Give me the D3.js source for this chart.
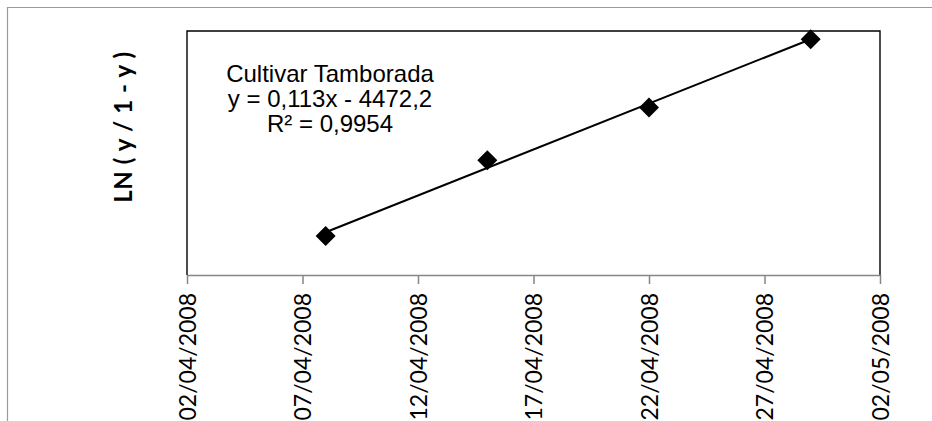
<!DOCTYPE html>
<html>
<head>
<meta charset="utf-8">
<script src="https://cdn.jsdelivr.net/npm/d3@7"></script>
<style>
  html, body { margin: 0; padding: 0; background: #fff; overflow: hidden; }
  svg { display: block; }
</style>
</head>
<body>
<div id="chart"></div>
<script>
// Data
const sampleDates = ["08/04/2008", "15/04/2008", "22/04/2008", "29/04/2008"];
const sampleValues = [-3.52, -2.59, -1.94, -1.10];
const tickLabels = ["02/04/2008", "07/04/2008", "12/04/2008", "17/04/2008",
                    "22/04/2008", "27/04/2008", "02/05/2008"];
const yDomain = [-4, -1];
const annotationLines = ["Cultivar Tamborada", "y = 0,113x - 4472,2", "R² = 0,9954"];
const yTitle = "LN ( y / 1 - y )";

const W = 932, H = 421;
const plot = { left: 187, right: 880, top: 31, bottom: 275 };

const parse = d3.timeParse("%d/%m/%Y");
const fmt = d3.timeFormat("%d/%m/%Y");
const ticks = tickLabels.map(parse);
const points = sampleDates.map((d, i) => ({ date: parse(d), value: sampleValues[i] }));

const svg = d3.select('#chart').append('svg')
    .attr('width', W)
    .attr('height', H);

const x = d3.scaleTime()
    .domain([ticks[0], ticks[ticks.length - 1]])
    .range([plot.left, plot.right]);

const y = d3.scaleLinear()
    .domain(yDomain)
    .range([plot.bottom, plot.top]);

// Outer chart border (cropped on right and bottom)
svg.append('path')
    .attr('d', `M7.5,${H} L7.5,7.5 L${W},7.5`)
    .attr('fill', 'none')
    .attr('stroke', '#9a9a9a')
    .attr('stroke-width', 1.2);

// Plot frame: top, left, right in black
svg.append('path')
    .attr('d', `M${plot.left},${plot.bottom} L${plot.left},${plot.top} L${plot.right},${plot.top} L${plot.right},${plot.bottom}`)
    .attr('fill', 'none')
    .attr('stroke', '#000')
    .attr('stroke-width', 1.4);

// X axis
const xAxis = d3.axisBottom(x)
    .tickValues(ticks)
    .tickFormat(fmt)
    .tickSizeInner(9)
    .tickSizeOuter(0);

const gx = svg.append('g')
    .attr('transform', `translate(0,${plot.bottom})`)
    .call(xAxis);

gx.select('.domain').attr('stroke', '#868686').attr('stroke-width', 1.5);
gx.selectAll('.tick line').attr('stroke', '#868686').attr('stroke-width', 1.5);
gx.selectAll('.tick text')
    .attr('font-family', 'Lato, "Open Sans", sans-serif')
    .attr('font-size', 23)
    .attr('fill', '#000')
    .attr('text-anchor', 'end')
    .attr('transform', 'rotate(-90)')
    .attr('x', -18)
    .attr('y', 0)
    .attr('dy', '0.36em');

// Y axis title
svg.append('text')
    .attr('transform', 'translate(132,127) rotate(-90)')
    .attr('text-anchor', 'middle')
    .attr('font-family', 'Lato, "Open Sans", sans-serif')
    .attr('font-weight', 'bold')
    .attr('font-size', 24)
    .attr('letter-spacing', 0.6)
    .attr('fill', '#000')
    .text(yTitle);

// Linear trend line (least squares over day number)
const xs = points.map(p => +p.date / 86400000);
const ys = points.map(p => p.value);
const mx = d3.mean(xs), my = d3.mean(ys);
const slope = d3.sum(xs, (v, i) => (v - mx) * (ys[i] - my)) / d3.sum(xs, v => (v - mx) * (v - mx));
const intercept = my - slope * mx;
const ends = d3.extent(points, p => p.date);

svg.append('path')
    .datum(ends)
    .attr('fill', 'none')
    .attr('stroke', '#000')
    .attr('stroke-width', 2)
    .attr('d', d3.line()
        .x(d => x(d))
        .y(d => y(slope * (+d / 86400000) + intercept)));

// Diamond markers
svg.selectAll('.pt')
    .data(points)
    .enter().append('path')
    .attr('class', 'pt')
    .attr('transform', d => `translate(${x(d.date)},${y(d.value)}) rotate(45)`)
    .attr('d', d3.symbol().type(d3.symbolSquare).size(200))
    .attr('fill', '#000');

// Trend annotation
svg.append('text')
    .attr('font-family', '"Liberation Sans", Arial, sans-serif')
    .attr('font-size', 24)
    .attr('fill', '#000')
    .attr('text-anchor', 'middle')
    .selectAll('tspan')
    .data(annotationLines)
    .enter().append('tspan')
    .attr('x', 330)
    .attr('y', (d, i) => 82 + i * 25)
    .text(d => d);
</script>
</body>
</html>
